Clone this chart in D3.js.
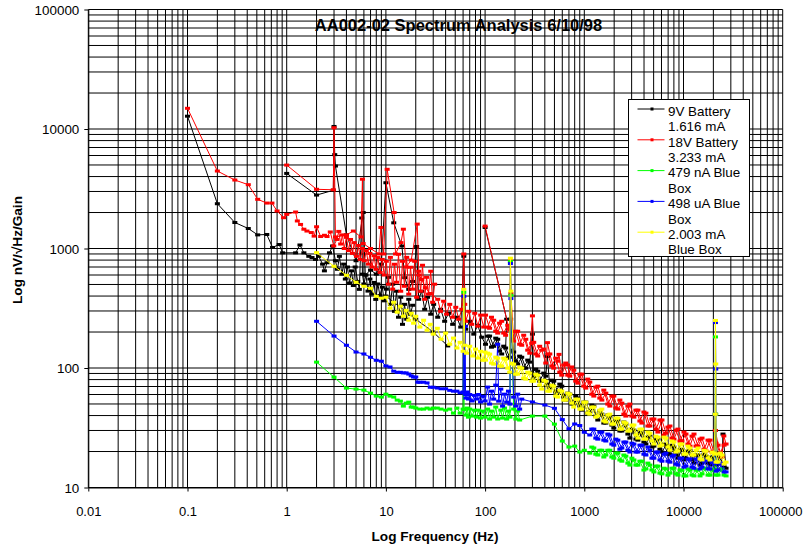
<!DOCTYPE html>
<html>
<head>
<meta charset="utf-8">
<script src="https://cdn.jsdelivr.net/npm/d3@7"></script>
<style>
  body { margin: 0; background: #fff; }
  svg text { font-family: Arial, "Liberation Sans", sans-serif; fill: #000; }
</style>
</head>
<body>
<svg id="chart" width="804" height="547"></svg>
<script>
// ---- data (frequency in Hz, value in nV/sqrt(Hz)/gain) ----
const xTicks = [0.01, 0.1, 1, 10, 100, 1000, 10000, 100000];
const xTickLabels = ["0.01", "0.1", "1", "10", "100", "1000", "10000", "100000"];
const yTicks = [10, 100, 1000, 10000, 100000];
const yTickLabels = ["10", "100", "1000", "10000", "100000"];

const seriesNames = [["9V Battery", "1.616 mA"], ["18V Battery", "3.233 mA"], ["479 nA Blue", "Box"], ["498 uA Blue", "Box"], ["2.003 mA", "Blue Box"]];
const seriesColors = ["#000000", "#ff0000", "#00ff00", "#0000ff", "#ffff00"];

// frequencies of the two upper sweeps
const bandFreq = [101, 111, 122, 134, 147, 161, 177, 194, 213, 234, 257, 282, 309, 339, 372, 409, 449, 492, 540, 593,
  650, 714, 783, 860, 943, 1035, 1136, 1247, 1368, 1502, 1648, 1809, 1985, 2179, 2391, 2624, 2880, 3161, 3469, 3807,
  4178, 4586, 5033, 5523, 6062, 6653, 7301, 8013, 8794, 9651, 10590, 11630, 12760, 14000, 15370, 16870, 18510, 20320,
  22300, 24470, 26860];
const bandFreq2 = [106, 116, 128, 140, 154, 169, 185, 203, 223, 245, 269, 295, 324, 355, 390, 428, 470, 515, 566, 621,
  681, 748, 820, 901, 988, 1084, 1190, 1306, 1433, 1573, 1726, 1895, 2079, 2283, 2505, 2749, 3017, 3312, 3634, 3988,
  4377, 4804, 5273, 5786, 6351, 6970, 7649, 8395, 9213, 10110, 11090, 12180, 13370, 14670, 16100, 17670, 19390, 21290,
  23360, 25630];

// 9V battery
const blackSweepA = [[0.1, 12800], [0.2, 2370], [0.3, 1650], [0.41, 1470], [0.51, 1300], [0.63, 1310], [0.72, 1020], [0.84, 1080],
  [0.91, 920], [1.23, 920], [1.36, 1070], [1.49, 920], [1.67, 860], [1.8, 840], [1.95, 810], [2.1, 860], [2.3, 740], [2.4, 650],
  [2.55, 760], [2.7, 920], [2.9, 1050], [3.1, 790], [3.25, 670], [3.4, 860], [3.6, 610], [3.75, 740], [3.9, 555], [4.1, 700],
  [4.3, 515], [4.5, 650], [4.7, 490], [4.9, 700], [5.2, 530], [5.4, 455], [5.7, 1800], [5.8, 610], [6.0, 505], [6.3, 600],
  [6.6, 440], [6.9, 555], [7.2, 415], [7.6, 520], [7.9, 375], [8.3, 505], [8.7, 405], [9.2, 475], [9.6, 365], [10.1, 457],
  [10.6, 574], [11.1, 341], [11.7, 503], [12.2, 298], [12.8, 439], [13.4, 266], [14.1, 391], [14.7, 232], [15.4, 341],
  [16.2, 256], [17, 376], [17.7, 282], [18.6, 335]];
const blackSweepT = [[10, 400], [20, 256], [30, 200], [42, 153]];
const blackSweepB = [[1, 4250], [2, 2800], [2.95, 3070], [3, 10500], [3.05, 6100], [3.1, 4900], [4, 1300], [5, 790], [5.9, 2000],
  [6.2, 600], [7, 660], [8, 610], [9, 740], [10, 3550], [12, 1640], [14.5, 1050], [15.5, 570], [17, 455], [18.6, 530],
  [20.4, 1040], [21.4, 376], [22.9, 439], [24.6, 310], [26.3, 391], [28.3, 282], [30.3, 341], [33.3, 266], [35.6, 310],
  [39.1, 246], [42.9, 287], [47.1, 232], [51.8, 266], [56.8, 220], [61, 861], [63.8, 211], [70, 246], [76.9, 192],
  [84.3, 228], [92.5, 181]];
const blackSweepC = [[100, 1500], [165, 256]];
const blackBand = [158, 185, 152, 174, 131, 147, 123, 136, 108, 123, 99.7, 112, 83.8, 94.1, 77.6, 85.5, 67.9, 77.6, 62.8, 70.5,
  53.9, 60.4, 49.9, 56, 44.4, 51.8, 42.8, 48, 36.7, 41.1, 34.6, 38.8, 31.4, 36.7, 29.7, 33.9, 25.9, 30.2, 24.9, 28.5,
  23.1, 26.9, 22.2, 25.4, 19.8, 22.6, 19, 21.8, 17.6, 20.9, 17.6, 20.5, 16, 18.7, 16, 18.3, 15.4, 18.3, 15.7, 18.3, 14.5];
const blackBand2 = [184.7, 149.4, 177.7, 138.4, 152.3, 120.9, 141, 114.1, 125.7, 99.7, 116.4, 90.6, 97.8, 77.6, 90.6, 73.3,
  79.1, 62.8, 73.3, 57.1, 61.6, 49.9, 58.2, 48, 51.8, 41.9, 48.9, 39.6, 43.6, 34.6, 40.4, 33.3, 36.7, 29.7, 35.3, 28,
  30.8, 25.4, 29.1, 24, 26.4, 21.8, 25.4, 20.9, 23.1, 19, 22.6, 18.7, 20.5, 17, 20.2, 17, 18.7, 15.4, 19, 16, 18, 15.4,
  18, 14.8];
const blackSpikes = { 6: [[181, 256]], 11: [[300, 192]], 15: [[425, 125]], 57: [[21000, 30]], 59: [[25000, 28]] };

// 18V battery
const redSweepA = [[0.1, 14900], [0.2, 4450], [0.3, 3740], [0.41, 3420], [0.51, 2580], [0.63, 2400], [0.71, 2400], [0.8, 2060],
  [0.93, 1810], [1.0, 1930], [1.23, 2020], [1.28, 1700], [1.38, 1590], [1.49, 1450], [1.6, 1400], [1.77, 1360], [1.89, 1270],
  [2.0, 1520], [2.2, 1260], [2.4, 1290], [2.55, 1260], [2.75, 1375], [2.98, 1050], [3.2, 1190], [3.35, 1390], [3.5, 1090],
  [3.65, 1300], [3.8, 1000], [4.0, 1240], [4.2, 960], [4.4, 1190], [4.6, 910], [4.8, 1120], [5.05, 860], [5.3, 1060],
  [5.5, 810], [5.8, 1000], [6.05, 790], [6.35, 960], [6.65, 740], [6.9, 910], [7.25, 700], [7.6, 870], [7.95, 670],
  [8.3, 840], [8.75, 630], [9.2, 810], [9.6, 600], [10.1, 782], [10.6, 503], [11.1, 843], [11.7, 457], [12.2, 738],
  [12.8, 522], [13.4, 895], [14.1, 439], [14.7, 782], [15.4, 483], [16.2, 843], [17, 415], [17.7, 697], [18.6, 457],
  [19.5, 782], [20.4, 391], [21.4, 645], [22.4, 439], [23.4, 724], [24.6, 376], [25.7, 574], [26.9, 415], [28.3, 645],
  [29.6, 355], [31, 503]];
const redSweepB = [[1, 4990], [2, 3130], [2.95, 3100], [3, 10250], [3.1, 1250], [4, 1300], [4.7, 1400], [5.6, 1250], [5.8, 3800],
  [5.9, 1100], [7, 1000], [8.5, 900], [8.9, 1500], [9.5, 900], [10.3, 4600], [12.1, 2000], [12.5, 900], [14.2, 1120],
  [15, 1450], [16, 700], [18, 800], [20.7, 1600], [21.5, 600], [23, 550], [25, 470], [28, 420], [33.3, 376], [35.6, 298],
  [38.2, 362], [40.9, 282], [44, 341], [47.1, 266], [50.6, 322], [54.2, 256], [58.2, 310], [61, 900], [62.4, 341],
  [63.8, 246], [68.4, 298], [73.3, 232], [78.6, 287], [84.3, 224], [90.3, 277], [96.8, 220]];
const redSweepC = [[100, 1540], [174, 211]];
const redBand = [277, 215, 251, 196, 246, 188, 215, 168, 203, 155, 174, 133, 164, 126, 141, 110, 131, 99.7, 114, 87.1,
  110, 85.5, 96, 74.7, 88.8, 67.9, 76.2, 58.2, 70.5, 53.9, 61.6, 48, 58.2, 45.3, 50.8, 39.6, 49.9, 38.8, 44.4, 34.6,
  41.9, 32.7, 37.4, 29.1, 36.7, 28.5, 32.7, 25.4, 30.8, 24.5, 28, 22.2, 28, 22.2, 25.9, 20.2, 24.9, 19.8, 22.6, 18, 23.1];
const redBand2 = [219.6, 266, 203, 237, 196, 228, 174, 203, 158, 188, 141, 161, 131, 152, 144, 131, 104, 121, 92.3, 106,
  87.1, 102, 77.6, 88.8, 70.5, 80.7, 60.4, 69.2, 56, 65.3, 49.9, 58.2, 46.2, 53.9, 41.1, 48, 39.6, 44.4, 36, 42.8,
  32.7, 37.4, 30.8, 36.7, 27.5, 32, 25.9, 30.2, 24.5, 29.1, 23.1, 26.9, 22.2, 25.4, 20.9, 24.9, 19.8, 23.5, 19.4, 22.6];
const redSpikes = { 6: [[180, 790], [182, 420]], 11: [[300, 273]], 15: [[425, 163]], 18: [[556, 130]], 20: [[680, 106]],
  57: [[21000, 30]], 59: [[25500, 27]] };

// 479 nA blue box
const greenLow = [[2, 112], [3, 83.8], [4, 67.9], [5, 66.6], [6, 65.3], [7, 61.6], [8, 58.2], [9, 57.1], [10, 60.4], [11, 58.2],
  [12, 57.1], [13, 53.9], [14, 52.8], [15, 48], [16, 50.8], [17, 51.8], [18, 47.1], [19, 47.1], [20, 46.2], [22, 45.3],
  [24, 45.3], [26, 46.2], [28, 45.3], [30, 46.2], [33, 46.2], [36, 45.3], [40, 44.4], [44, 45.3], [48, 41.9], [52, 46.2],
  [56, 41.9], [60, 45.3], [61, 430], [61.5, 45], [64, 40.4], [66, 46.2], [68, 38.8], [70, 45.3], [74, 39.6], [78, 44.4],
  [82, 38.8], [86, 44.4], [90, 38.1], [95, 43.6], [100, 38.8], [106, 45.3], [111, 37.4], [116, 43.6], [122, 38.8],
  [128, 47.1], [134, 37.4], [144, 44.4], [150, 38.1], [157, 46.2], [165, 37.4], [172, 43.6], [178, 38.8], [180, 778],
  [182, 406], [194, 45.3], [204, 37.4], [213, 43.6], [223, 36.7], [300, 39.6], [400, 39.6], [500, 33.9], [600, 24.5],
  [700, 21.8], [800, 22.2], [900, 19.8], [1000, 20.5]];
const greenBand = [19.4, 21.4, 18.7, 20.5, 18.7, 20.5, 17.6, 19.4, 16.6, 18.3, 15.4, 17, 15.4, 16.6, 14.3, 15.4, 13.5, 15.1,
  13, 14.3, 13.2, 14.5, 12.7, 14, 12.5, 14, 12.5, 14, 13, 14.5, 12.7, 14.3, 12.7, 14.3, 12.5];
const greenBand2 = [21.8, 19, 20.5, 18, 20.5, 18, 19.4, 17, 18.7, 16, 17.6, 15.4, 16.6, 14, 16, 14, 15.1, 13.2, 14.5, 12.7,
  14.5, 13, 14, 12.5, 14.3, 12.7, 14, 12.5, 14.5, 12.7, 14, 12.7, 14.3, 12.7];
const greenSpikes = { 57: [[20900, 41], [21000, 182], [21150, 41], [21300, 14]] };

// 498 uA blue box
const blueLow = [[2, 246], [3, 185], [4, 155], [5, 136], [6, 131], [7, 123], [8, 116], [9, 114], [10, 104], [11, 102], [12, 94],
  [13, 92], [14, 92], [15, 91], [16, 91], [17, 89], [18, 86], [19, 84], [20, 84], [21, 76], [22, 76], [24, 76], [26, 75],
  [28, 69], [30, 69], [33, 68], [36, 67], [40, 67], [44, 65], [48, 64], [52, 64], [56, 62], [60, 63], [61, 398], [61.5, 62],
  [63, 223], [63.5, 60], [64, 56], [66, 63], [68, 55], [70, 60], [74, 53], [78, 59], [82, 55], [86, 60], [90, 52], [95, 58],
  [100, 53], [106, 69.2], [111, 49.9], [116, 64], [122, 54.9], [128, 71.9], [134, 158], [137, 52.8], [144, 66.6], [150, 48],
  [157, 60.4], [165, 51.8], [172, 64], [178, 49.9], [180, 748], [182, 381], [194, 57.1], [204, 48], [213, 60.4], [223, 45.3],
  [234, 54.9], [300, 52], [400, 49], [500, 46], [600, 37], [700, 31], [800, 34], [900, 33], [1000, 29]];
const blueBand = [27.5, 30.8, 25.4, 29.1, 24.5, 27.5, 22.6, 24.9, 21.4, 24, 19.8, 23.1, 19.8, 22.6, 18.7, 20.5, 17.6, 19.8,
  16.6, 19.4, 16.3, 18.7, 15.4, 17.6, 15.1, 17.3, 14.5, 17.3, 14.8, 17, 14.3, 16, 14, 15.7, 13.5];
const blueBand2 = [30.8, 25.9, 29.1, 24.9, 28, 23.1, 25.4, 20.9, 24, 20.5, 23.5, 19.8, 22.6, 19, 21.8, 17.6, 19.8, 17, 19,
  16.6, 18.3, 15.7, 17.6, 14.8, 17.3, 14.8, 17.3, 14.3, 16.6, 14.3, 16.3, 13.7, 16, 13.5];
const blueSpikes = { 57: [[20900, 41], [21000, 240], [21150, 98], [21300, 16]] };

// 2.003 mA blue box
const yellowLow = [[2, 923], [3, 710], [4, 597], [5, 522], [6, 483], [7, 465], [8, 398], [9, 384], [10, 391], [11, 316], [12, 355],
  [13, 293], [14, 329], [15, 271], [16, 304], [17, 251], [18, 287], [19, 237], [20, 271], [22, 220], [24, 251], [26, 207],
  [28, 232], [30, 192], [33, 215], [36, 174], [40, 196], [44, 158], [48, 178], [52, 147], [56, 164], [60, 138], [61, 455],
  [62.5, 155], [65, 133], [70, 152], [75, 126], [80, 144], [85, 121], [90, 138], [95, 116], [100, 136]];
const yellowBand = [116.4, 130.6, 107.7, 120.9, 103.7, 118.6, 92.3, 107.7, 88.8, 99.7, 80.7, 90.6, 77.6, 87.1, 66.6, 77.6,
  64, 70.5, 57.1, 64, 53.9, 60.4, 47.1, 54.9, 45.3, 51.8, 41.1, 47.1, 39.6, 45.3, 35.3, 41.1, 33.9, 38.1, 30.8, 34.6,
  29.7, 33.3, 25.9, 30.8, 25.4, 28.5, 23.1, 26.4, 22.6, 25.9, 20.5, 24, 20.2, 23.1, 19, 21.4, 18.7, 21.4, 17, 20.2, 17,
  19.4, 16.3, 18.7, 16.3];
const yellowBand2 = [133.1, 109.8, 123.3, 103.7, 120.9, 99.7, 109.8, 88.8, 101.7, 82.2, 92.3, 77.6, 88.8, 71.9, 79.1, 64,
  71.9, 58.2, 65.3, 53.9, 61.6, 50.8, 54.9, 45.3, 51.8, 41.9, 47.1, 38.8, 44.4, 36, 40.4, 33.9, 38.1, 30.8, 35.3, 29.7,
  33.3, 27.5, 30.8, 25.4, 29.1, 24.5, 26.9, 22.2, 26.4, 21.8, 24.5, 19.8, 23.1, 19, 22.2, 18.7, 20.5, 17.3, 20.5, 17.6,
  19.8, 16.3, 19.4, 15.7];
const yellowSpikes = { 6: [[180, 830], [182, 440]], 57: [[20900, 41], [21000, 250], [21150, 108], [21300, 19]] };

// band values start at freqs[offset]; spikes are keyed by band index
function bandPoints(freqs, values, spikes, offset, from, to) {
  const pts = [];
  values.forEach((v, k) => {
    const i = k + offset;
    if (i < from || i > to) return;
    pts.push([freqs[i], v]);
    if (spikes[i]) spikes[i].forEach(p => pts.push(p));
  });
  return pts;
}

const series = [
  [blackSweepA, blackSweepT, blackSweepB.concat(bandPoints(bandFreq, blackBand, blackSpikes, 0, 0, 4)),
    blackSweepC.concat(bandPoints(bandFreq, blackBand, blackSpikes, 0, 5, 60)),
    bandPoints(bandFreq2, blackBand2, {}, 0, 0, 60)],
  [redSweepA, redSweepB.concat(bandPoints(bandFreq, redBand, redSpikes, 0, 0, 4)),
    redSweepC.concat(bandPoints(bandFreq, redBand, redSpikes, 0, 5, 60)),
    bandPoints(bandFreq2, redBand2, {}, 0, 0, 60)],
  [greenLow.concat(bandPoints(bandFreq, greenBand, greenSpikes, 26, 0, 60)),
    bandPoints(bandFreq2, greenBand2, {}, 26, 0, 60)],
  [blueLow.concat(bandPoints(bandFreq, blueBand, blueSpikes, 26, 0, 60)),
    bandPoints(bandFreq2, blueBand2, {}, 26, 0, 60)],
  [yellowLow.concat(bandPoints(bandFreq, yellowBand, yellowSpikes, 0, 0, 60)),
    bandPoints(bandFreq2, yellowBand2, {}, 0, 0, 60)]
];

// ---- chart ----
const svg = d3.select("#chart");
const x = d3.scaleLog().domain([0.01, 100000]).range([88.3, 782.7]);
const y = d3.scaleLog().domain([10, 100000]).range([487.5, 9.5]);

svg.append("rect").attr("width", 804).attr("height", 547).attr("fill", "#fff");

// grid at every 1..9 x decade
const gridX = [], gridY = [];
for (let e = -2; e < 5; e++) for (let k = 1; k < 10; k++) gridX.push(k * Math.pow(10, e));
gridX.push(100000);
for (let e = 1; e < 5; e++) for (let k = 1; k < 10; k++) gridY.push(k * Math.pow(10, e));
gridY.push(100000);

const grid = svg.append("g").attr("class", "grid");
grid.selectAll(".gx").data(gridX).enter().append("line")
  .attr("x1", d => x(d)).attr("x2", d => x(d))
  .attr("y1", y(100000)).attr("y2", y(10))
  .attr("stroke", "#000").attr("stroke-width", 1);
grid.selectAll(".gy").data(gridY).enter().append("line")
  .attr("x1", x(0.01)).attr("x2", x(100000))
  .attr("y1", d => y(d)).attr("y2", d => y(d))
  .attr("stroke", "#000").attr("stroke-width", 1);

// axes
const xAxis = d3.axisBottom(x).tickValues(xTicks).tickFormat((d, i) => xTickLabels[i]).tickSize(4).tickSizeOuter(0);
const yAxis = d3.axisLeft(y).tickValues(yTicks).tickFormat((d, i) => yTickLabels[i]).tickSize(4).tickSizeOuter(0);

const gx = svg.append("g").attr("transform", `translate(0,${y(10)})`).call(xAxis);
gx.selectAll("text").style("font-size", "13px").attr("dy", "0").attr("y", 28);
// last label sits against the right edge of the picture
gx.selectAll(".tick").filter(d => d === 100000).select("text")
  .attr("text-anchor", "end").attr("x", 802 - x(100000));
const gy = svg.append("g").attr("transform", `translate(${x(0.01)},0)`).call(yAxis);
gy.selectAll("text").style("font-size", "13.4px").attr("x", -9).attr("dy", "0.35em");
svg.selectAll(".domain").attr("stroke", "#000");
svg.selectAll(".tick line").attr("stroke", "#000");

// series lines and markers
const line = d3.line().x(d => x(d[0])).y(d => y(d[1]));
series.forEach((segs, s) => {
  const g = svg.append("g");
  segs.forEach(seg => {
    g.append("path").datum(seg).attr("d", line)
      .attr("fill", "none").attr("stroke", seriesColors[s]).attr("stroke-width", 1);
  });
  segs.forEach(seg => {
    g.selectAll(null).data(seg).enter().append("rect")
      .attr("x", d => x(d[0]) - 2.5).attr("y", d => y(d[1]) - 1.5)
      .attr("width", 5).attr("height", 3)
      .attr("fill", seriesColors[s]);
  });
});

// title and axis titles
svg.append("text").attr("x", 458.5).attr("y", 31).attr("text-anchor", "middle")
  .style("font-size", "16.5px").style("font-weight", "bold")
  .text("AA002-02 Spectrum Analysis 6/10/98");
svg.append("text").attr("x", 435).attr("y", 541).attr("text-anchor", "middle")
  .style("font-size", "13.6px").style("font-weight", "bold")
  .text("Log Frequency (Hz)");
svg.append("text").attr("transform", "translate(22,250) rotate(-90)").attr("text-anchor", "middle")
  .style("font-size", "13.6px").style("font-weight", "bold")
  .text("Log nV/\u221AHz/Gain");

// legend
const legend = svg.append("g").attr("transform", "translate(628.5,99.5)");
legend.append("rect").attr("width", 121).attr("height", 157)
  .attr("fill", "#fff").attr("stroke", "#000").attr("stroke-width", 1);
seriesNames.forEach((name, i) => {
  const ly = 9.5 + i * 30.8;
  legend.append("line").attr("x1", 9).attr("x2", 36).attr("y1", ly).attr("y2", ly)
    .attr("stroke", seriesColors[i]).attr("stroke-width", 1);
  legend.append("rect").attr("x", 22).attr("y", ly - 1.5).attr("width", 3).attr("height", 3)
    .attr("fill", seriesColors[i]);
  name.forEach((t, j) => {
    legend.append("text").attr("x", 39.5).attr("y", ly + 6.8 + j * 15.3)
      .style("font-size", "13.4px").text(t);
  });
});
</script>
</body>
</html>
